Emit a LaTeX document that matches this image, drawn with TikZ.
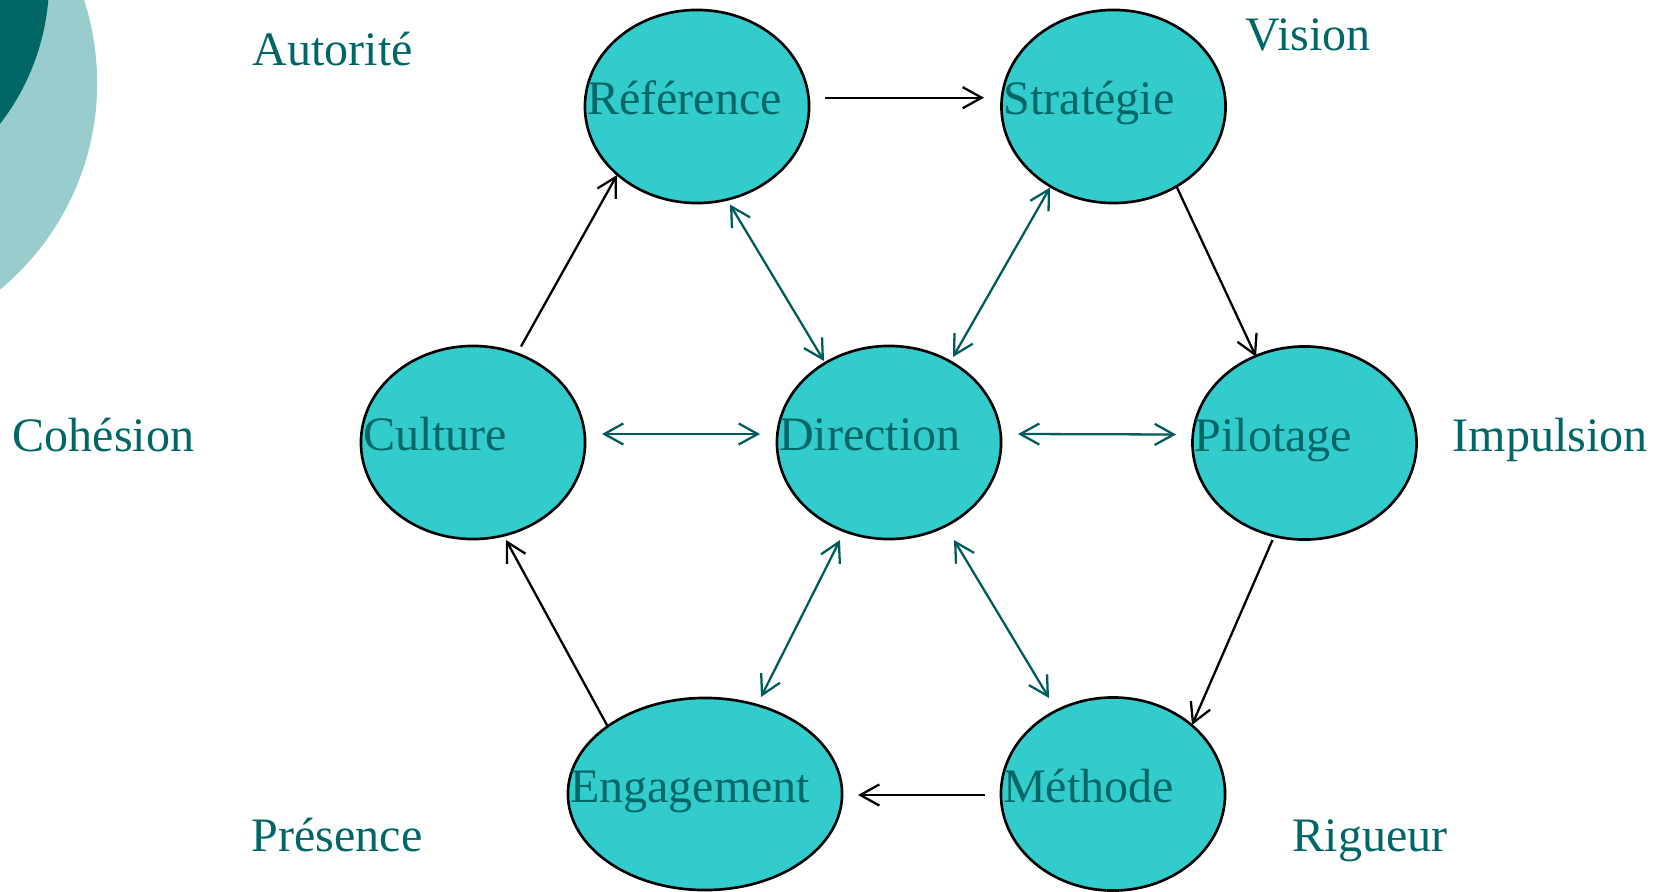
\documentclass[tikz,border=0pt]{standalone}
\usepackage{fontspec}
\setmainfont{Liberation Serif}
\usetikzlibrary{shapes.geometric, arrows.meta}

\definecolor{cyanfill}{HTML}{33CCCC}
\definecolor{tealtext}{HTML}{006666}
\definecolor{tealarrow}{HTML}{005C5C}
\definecolor{palecircle}{HTML}{99CCCC}

\tikzset{
	barb/.tip={Straight Barb[length=5.4pt, width=6pt]},
	blob/.style={ellipse, draw, line width=0.75pt, fill=cyanfill,
		minimum width=2.24cm, minimum height=1.93cm, inner sep=0pt},
	inlabel/.style={anchor=base west, inner sep=0pt, xshift=0.8pt, yshift=-2.4pt},
	word/.style={anchor=base west, inner sep=0pt},
	fwd/.style={-barb, line width=0.65pt, black},
	both/.style={barb-barb, line width=0.65pt, tealarrow}
}

\begin{document}
\begin{tikzpicture}[
		x=0.01cm, y=-0.01cm,
		every node/.style={font=\fontsize{13.66pt}{16pt}\selectfont, text=tealtext}
	]
  \useasboundingbox (0,0) rectangle (1661,891);
  % corner decoration
  \begin{scope}
    \clip (0,0) rectangle (1661,891);
    \fill[palecircle] (-171,83) circle [radius=2.68cm];
    \fill[tealtext] (-186,-20) circle [radius=2.35cm];
  \end{scope}
  % the six ellipses
  \node (ref) [blob, label={[inlabel]west:Référence}] at (697,106.5) {};
  \node (strat) [blob, label={[inlabel]west:Stratégie}] at (1113.5,106.5) {};
  \node (cult) [blob, label={[inlabel]west:Culture}] at (473,442.5) {};
  \node (dir) [blob, label={[inlabel]west:Direction}] at (889,442.5) {};
  \node (pil) [blob, label={[inlabel]west:Pilotage}] at (1304.5,443) {};
  \node (eng) [blob, minimum width=2.74cm, minimum height=1.92cm,
    label={[inlabel]west:Engagement}] at (705,794) {};
  \node (meth) [blob, label={[inlabel]west:Méthode}] at (1113,794) {};
  % qualities
  \node (autorite) [word] at (252,66) {Autorité};
  \node (vision) [word] at (1245,51) {Vision};
  \node (cohesion) [word] at (12,451) {Cohésion};
  \node (impulsion) [word] at (1452,451) {Impulsion};
  \node (presence) [word] at (251,851) {Présence};
  \node (rigueur) [word] at (1292,851) {Rigueur};
  % outer cycle
  \draw[fwd] ([shift={(128,-8.8)}]ref.center) -- ([shift={(-129.5,-8.8)}]strat.center);
  \draw[fwd] ([shift={(63,80)}]strat.center) -- ([shift={(-48.5,-86.3)}]pil.center);
  \draw[fwd] ([shift={(-32,97)}]pil.center) -- ([shift={(79,-69)}]meth.center);
  \draw[fwd] ([shift={(-128,1)}]meth.center) -- ([shift={(153,1)}]eng.center);
  \draw[fwd] ([shift={(-97,-67)}]eng.center) -- ([shift={(33,97.5)}]cult.center);
  \draw[fwd] ([shift={(48,-96)}]cult.center) -- ([shift={(-80,68.5)}]ref.center);
  % links to the centre
  \draw[both] ([shift={(33,98)}]ref.center) -- ([shift={(-65,-81.5)}]dir.center);
  \draw[both] ([shift={(-63.5,81)}]strat.center) -- ([shift={(64,-85.5)}]dir.center);
  \draw[both] ([shift={(129,-8.5)}]cult.center) -- ([shift={(-129,-8.5)}]dir.center);
  \draw[both] ([shift={(129,-8.5)}]dir.center) -- ([shift={(-128.5,-8.5)}]pil.center);
  \draw[both] ([shift={(-49,97.5)}]dir.center) -- ([shift={(56,-97)}]eng.center);
  \draw[both] ([shift={(65,97.5)}]dir.center) -- ([shift={(-64,-96)}]meth.center);
\end{tikzpicture}
\end{document}
